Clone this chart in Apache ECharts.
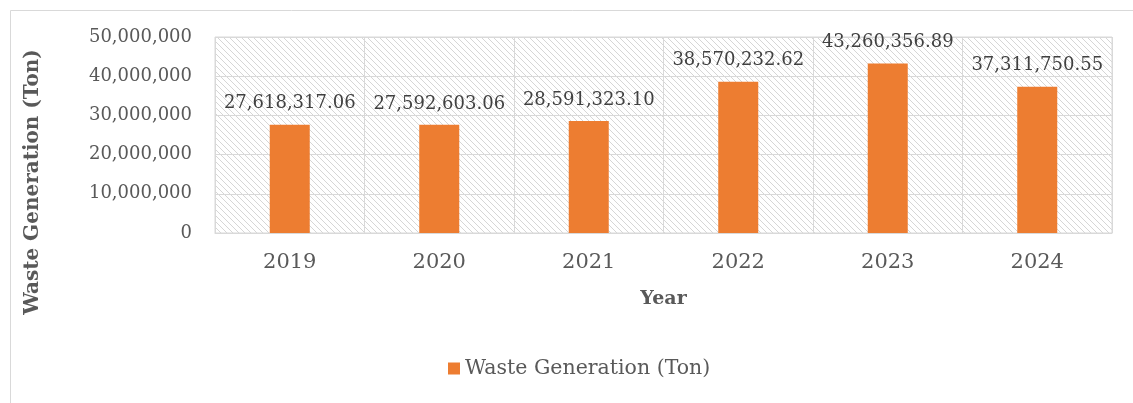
<!DOCTYPE html>
<html>
<head>
<meta charset="utf-8">
<script src="https://cdn.jsdelivr.net/npm/echarts@6/dist/echarts.min.js"></script>
<style>
html,body{margin:0;padding:0;background:#fff;}
#main{width:1133px;height:403px;}
</style>
</head>
<body>
<div id="main"></div>
<script>
const categories = ['2019', '2020', '2021', '2022', '2023', '2024'];
const wasteValues = [27618317.06, 27592603.06, 28591323.10, 38570232.62, 43260356.89, 37311750.55];
const seriesName = 'Waste Generation (Ton)';
const yTicks = [0, 10000000, 20000000, 30000000, 40000000, 50000000];

const FONT = '"DejaVu Serif", "Liberation Serif", serif';
const GRID = '#d9d9d9';

// hatch pattern
const pc = document.createElement('canvas');
pc.width = 6; pc.height = 6;
const ctx = pc.getContext('2d');
ctx.fillStyle = '#ffffff';
ctx.fillRect(0, 0, 6, 6);
ctx.fillStyle = '#d6d6d6';
for (let i = 0; i < 6; i++) ctx.fillRect(i, i, 1, 1);

const fmt = v => Number(v).toLocaleString('en-US');
const fmt2 = v => Number(v).toLocaleString('en-US', {minimumFractionDigits: 2, maximumFractionDigits: 2});

const chart = echarts.init(document.getElementById('main'), null, {renderer: 'canvas'});
chart.setOption({
  animation: false,
  backgroundColor: '#ffffff',
  textStyle: {fontFamily: FONT},
  grid: {
    left: 215, right: 21, top: 37, bottom: 170,
    show: true,
    backgroundColor: {image: pc, repeat: 'repeat'},
    borderColor: GRID, borderWidth: 1
  },
  legend: {
    data: [seriesName],
    left: 448, top: 358, padding: 0,
    itemWidth: 12, itemHeight: 12, icon: 'rect',
    textStyle: {fontFamily: FONT, fontSize: 20.5, color: '#595959'}
  },
  graphic: [
    {type: 'rect', left: 8, top: 8, shape: {width: 1300, height: 500}, style: {fill: 'none', stroke: GRID, lineWidth: 1}, silent: true},
    {type: 'text', x: 33, y: 182, rotation: Math.PI / 2,
     style: {text: seriesName, font: 'bold 20px ' + FONT, fill: '#595959', align: 'center', verticalAlign: 'middle'}}
  ],
  xAxis: {
    type: 'category',
    data: categories,
    name: 'Year',
    nameLocation: 'middle',
    nameGap: 57,
    nameTextStyle: {fontFamily: FONT, fontSize: 19, fontWeight: 'bold', color: '#595959'},
    axisLine: {show: true, lineStyle: {color: GRID, width: 1}},
    axisTick: {show: false},
    axisLabel: {fontFamily: FONT, fontSize: 21, color: '#595959', margin: 19},
    splitLine: {show: true, lineStyle: {color: GRID, width: 1}}
  },
  yAxis: {
    type: 'value',
    min: 0, max: 50000000, interval: 10000000,
    axisLine: {show: false},
    axisTick: {show: false},
    axisLabel: {fontFamily: FONT, fontSize: 18, color: '#595959', margin: 23, formatter: v => fmt(v)},
    splitLine: {show: true, lineStyle: {color: GRID, width: 1}}
  },
  series: [{
    name: seriesName,
    type: 'bar',
    data: wasteValues,
    barWidth: 40,
    itemStyle: {color: '#ED7D31'},
    label: {
      show: true, position: 'top', distance: 12,
      fontFamily: FONT, fontSize: 18, color: '#404040',
      formatter: p => fmt2(p.value)
    }
  }]
});
</script>
</body>
</html>
